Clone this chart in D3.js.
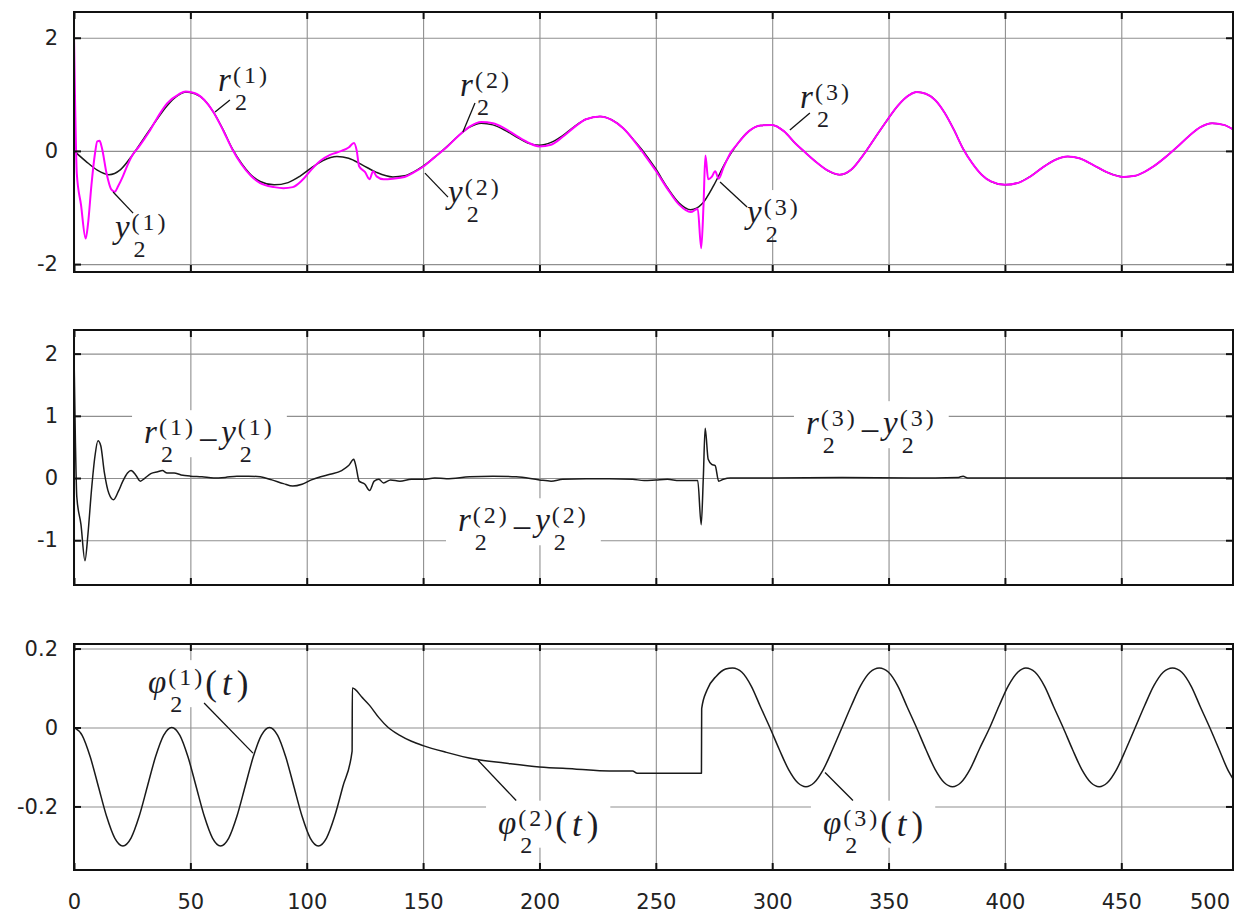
<!DOCTYPE html>
<html>
<head>
<meta charset="utf-8">
<script src="https://cdn.jsdelivr.net/npm/d3@7"></script>
<style>
body { margin: 0; background: #fff; }
</style>
</head>
<body>
<script>
// time ticks
var xTicks = [0, 50, 100, 150, 200, 250, 300, 350, 400, 450, 500];

var yTicks1 = [-2, 0, 2];
var yTicks2 = [-1, 0, 1, 2];
var yTicks3 = [-0.2, 0, 0.2];

// panel 1, black curve [t, value]
var refCurve = [[0,0],[5,-0.18],[10,-0.34],[15,-0.42],[20,-0.33],[25,-0.08],[30,0.22],[35,0.52],[40,0.8],[45,0.99],[48,1.04],[52,1.01],[56,0.9],[60,0.68],[64,0.38],[68,0.04],[72,-0.22],[76,-0.42],[80,-0.54],[86,-0.6],[92,-0.56],[97,-0.45],[102,-0.3],[107,-0.17],[113,-0.1],[118,-0.13],[124,-0.25],[130,-0.38],[137,-0.46],[142,-0.44],[146,-0.37],[150,-0.27],[155,-0.11],[160,0.07],[165,0.26],[170,0.42],[175,0.49],[180,0.46],[185,0.37],[190,0.25],[195,0.14],[200,0.1],[205,0.15],[210,0.27],[215,0.43],[220,0.56],[226,0.61],[231,0.55],[236,0.4],[241,0.17],[245,-0.03],[250,-0.32],[255,-0.65],[260,-0.92],[265,-1.04],[270,-0.93],[275,-0.6],[280,-0.2],[285,0.12],[290,0.35],[295,0.45],[300,0.46],[305,0.35],[310,0.13],[314,-0.02],[319,-0.2],[324,-0.35],[329,-0.42],[334,-0.33],[339,-0.08],[344,0.22],[349,0.52],[354,0.8],[359,0.99],[362,1.04],[366,1.01],[370,0.9],[374,0.68],[378,0.38],[382,0.04],[386,-0.22],[390,-0.42],[394,-0.54],[400,-0.6],[406,-0.56],[411,-0.45],[416,-0.3],[421,-0.17],[427,-0.1],[432,-0.13],[438,-0.25],[444,-0.38],[451,-0.46],[456,-0.44],[460,-0.37],[464,-0.27],[469,-0.11],[474,0.07],[479,0.26],[484,0.42],[489,0.49],[494,0.46],[498,0.38]];

// panel 1, magenta curve
var outCurve = [[0,2.0],[0.5,0.8],[1.2,-0.4],[3,-0.95],[5,-1.55],[6,-1.3],[7.5,-0.6],[9,-0.05],[10,0.17],[11,0.18],[12,0.05],[14,-0.4],[16,-0.68],[17.5,-0.72],[19,-0.62],[21,-0.45],[23,-0.25],[25,-0.08],[28,0.08],[32,0.32],[36,0.6],[40,0.84],[45,1.0],[48,1.05],[52,1.02],[56,0.9],[60,0.68],[64,0.37],[68,0.03],[72,-0.24],[76,-0.44],[80,-0.57],[86,-0.64],[90,-0.66],[94,-0.64],[98,-0.52],[102,-0.33],[106,-0.17],[110,-0.07],[115,0.0],[118,0.06],[120.3,0.14],[121.5,0.0],[122.5,-0.27],[125,-0.37],[127,-0.5],[128.5,-0.36],[130,-0.45],[133,-0.5],[137,-0.49],[142,-0.46],[146,-0.38],[150,-0.28],[155,-0.11],[160,0.06],[165,0.26],[170,0.43],[175,0.51],[180,0.49],[185,0.4],[190,0.27],[195,0.15],[200,0.08],[205,0.11],[210,0.25],[215,0.42],[220,0.56],[226,0.61],[231,0.55],[236,0.4],[241,0.16],[245,-0.06],[250,-0.35],[255,-0.67],[260,-0.95],[265,-1.08],[268,-1.02],[269.5,-1.72],[270.5,-0.95],[271.3,-0.08],[272.5,-0.5],[274,-0.46],[275.5,-0.36],[277,-0.49],[279,-0.3],[282,-0.04],[285,0.12],[290,0.35],[295,0.45],[300,0.46],[305,0.35],[310,0.13],[314,-0.02],[319,-0.2],[324,-0.35],[329,-0.42],[334,-0.33],[339,-0.08],[344,0.22],[349,0.52],[354,0.8],[359,0.99],[362,1.04],[366,1.01],[370,0.9],[374,0.68],[378,0.38],[382,0.04],[386,-0.22],[390,-0.42],[394,-0.54],[400,-0.6],[406,-0.56],[411,-0.45],[416,-0.3],[421,-0.17],[427,-0.1],[432,-0.13],[438,-0.25],[444,-0.38],[451,-0.46],[456,-0.44],[460,-0.37],[464,-0.27],[469,-0.11],[474,0.07],[479,0.26],[484,0.42],[489,0.49],[494,0.46],[498,0.38]];

// panel 2, tracking error
var errCurve = [[0,2.0],[0.6,0.6],[1.2,-0.3],[3,-0.75],[4.7,-1.33],[6,-0.9],[7.5,-0.2],[9,0.35],[10.3,0.6],[11.5,0.52],[13,0.1],[15,-0.25],[17,-0.35],[19,-0.22],[21,-0.05],[23,0.08],[24.5,0.12],[26.5,0.05],[28.5,-0.05],[30.5,0.0],[33,0.07],[36,0.1],[38,0.12],[40,0.08],[43,0.08],[46,0.05],[50,0.03],[55,0.02],[60,0.0],[65,0.01],[70,0.03],[75,0.03],[80,0.02],[85,-0.03],[90,-0.09],[94,-0.13],[98,-0.1],[102,-0.03],[106,0.02],[110,0.06],[115,0.12],[118,0.2],[120.2,0.3],[121.2,0.18],[122.5,-0.05],[125,-0.1],[127,-0.2],[129,-0.05],[131,-0.02],[133,-0.08],[136,-0.03],[140,-0.05],[145,-0.02],[150,-0.02],[155,0.0],[160,-0.01],[170,0.02],[180,0.03],[190,0.02],[200,-0.03],[205,-0.05],[210,-0.02],[220,-0.01],[230,-0.01],[240,-0.02],[245,-0.04],[250,-0.03],[255,-0.02],[260,-0.04],[268,-0.04],[269.5,-0.75],[270.4,0.0],[271.2,0.8],[272.5,0.3],[274,0.22],[275.5,0.2],[277,-0.05],[279,-0.02],[282,0.0],[300,0.0],[330,0.01],[360,0.0],[380,0.01],[382,0.03],[384,0.0],[420,0.0],[460,0.0],[498,0.0]];

// panel 3, phi2(t)
var phiCurve = [[0,0],[3.5,-0.02],[7,-0.075],[10.5,-0.15],[14,-0.225],[17.5,-0.28],[21,-0.3],[24.5,-0.28],[28,-0.225],[31.5,-0.15],[35,-0.075],[38.5,-0.02],[42,0],[45.5,-0.02],[49,-0.075],[52.5,-0.15],[56,-0.225],[59.5,-0.28],[63,-0.3],[66.5,-0.28],[70,-0.225],[73.5,-0.15],[77,-0.075],[80.5,-0.02],[84,0],[87.5,-0.02],[91,-0.075],[94.5,-0.15],[98,-0.225],[101.5,-0.28],[105,-0.3],[108.5,-0.28],[112,-0.225],[115.5,-0.15],[119.5,-0.06],
  [119.6,0.1],[124,0.075],[127,0.056],[131,0.025],[135,0.0],[140,-0.02],[145,-0.035],[150,-0.046],[160,-0.063],[172,-0.08],[185,-0.09],[200,-0.1],[215,-0.105],[230,-0.11],[240,-0.11],[242,-0.116],[255,-0.116],[269.6,-0.116],
  [269.7,0.048],[272,0.095],[276,0.13],[280,0.148],[283,0.151],[287,0.14],[291,0.105],[295,0.052],[299,0.0],[303,-0.055],[307,-0.106],[311,-0.14],[314.5,-0.15],[318,-0.14],[322,-0.106],[326,-0.055],[330,0.0],[334,0.055],[338,0.106],[342,0.14],[346,0.151],[350,0.14],[354,0.105],[358,0.052],[362,0.0],[366,-0.055],[370,-0.106],[374,-0.14],[377.5,-0.15],[381,-0.14],[385,-0.106],[389,-0.055],[393.5,0.0],[397.5,0.055],[401.5,0.106],[405.5,0.14],[409,0.151],[413,0.14],[417,0.105],[421,0.052],[425,0.0],[429,-0.055],[433,-0.106],[437,-0.14],[440.5,-0.15],[444,-0.14],[448,-0.106],[452,-0.055],[456,0.0],[460,0.055],[464,0.106],[468,0.14],[472,0.151],[476,0.14],[480,0.105],[484,0.052],[488,0.0],[492,-0.055],[496,-0.11],[498,-0.13]];

// formula labels: anchor [t, value], leader line [[t, v], [t, v]]
var labels1 = [
	{parts: [{b: "r", s: "(1)"}], at: [61.9, 1.058], lead: [[60.6, 0.687], [67.0, 0.899]]},
	{parts: [{b: "y", s: "(1)"}], at: [17.6, -1.54], lead: [[16.8, -0.727], [25.4, -1.1]]},
	{parts: [{b: "r", s: "(2)"}], at: [165.9, 0.97], lead: [[167.1, 0.333], [172.3, 0.846]]},
	{parts: [{b: "y", s: "(2)"}], at: [160.7, -0.92], lead: [[150.8, -0.393], [160.7, -0.817]]},
	{parts: [{b: "y", s: "(3)"}], at: [289.2, -1.275], lead: [[277.6, -0.55], [289.2, -0.99]]},
	{parts: [{b: "r", s: "(3)"}], at: [312, 0.757], lead: [[307.6, 0.369], [316.2, 0.669]]}
];
var labels2 = [
	{parts: [{b: "r", s: "(1)"}, {op: "\u2212"}, {b: "y", s: "(1)"}], at: [30.1, 0.56]},
	{parts: [{b: "r", s: "(2)"}, {op: "\u2212"}, {b: "y", s: "(2)"}], at: [165, -0.856]},
	{parts: [{b: "r", s: "(3)"}, {op: "\u2212"}, {b: "y", s: "(3)"}], at: [314.5, 0.705]}
];
var labels3 = [
	{parts: [{b: "\u03c6", s: "(1)"}, {arg: "t"}], at: [31.8, 0.087], lead: [[55.9, 0.062], [76.9, -0.065]]},
	{parts: [{b: "\u03c6", s: "(2)"}, {arg: "t"}], at: [182.2, -0.269], lead: [[173.6, -0.083], [190, -0.185]]},
	{parts: [{b: "\u03c6", s: "(3)"}, {arg: "t"}], at: [321.8, -0.269], lead: [[322.7, -0.114], [334.7, -0.185]]}
];

var Width = 1237, Height = 917;
var tickFont = "'DejaVu Sans', Arial, sans-serif";

var svg = d3.select("body").append("svg")
	.attr("width", Width)
	.attr("height", Height);

var x = d3.scaleLinear().domain([0, 498]).range([74, 1233]);
var x0 = x.range()[0], x1 = x.range()[1];

var panels = [
	{top: 12, bottom: 272, domain: [-2.14, 2.455], ticks: yTicks1, labels: labels1,
		lines: [[refCurve, "#1a1a1a", 1.5], [outCurve, "#ff00ff", 2]]},
	{top: 330, bottom: 585, domain: [-1.72, 2.38], ticks: yTicks2, labels: labels2,
		lines: [[errCurve, "#1a1a1a", 1.5]]},
	{top: 644, bottom: 870, domain: [-0.361, 0.2115], ticks: yTicks3, labels: labels3,
		lines: [[phiCurve, "#1a1a1a", 1.5]]}
];

panels.forEach(function(p, i) { drawPanel(p, i); });

// time labels under the last panel
var lastP = panels[panels.length - 1];
var inTicks = xTicks.filter(function(t) { return x(t) <= x1; });
var xLab = svg.append("g")
	.attr("transform", "translate(0," + lastP.bottom + ")")
	.call(d3.axisBottom(x).tickValues(inTicks).tickSize(0).tickPadding(24).tickFormat(String));
xLab.select(".domain").remove();
styleTickText(xLab);
// 500 does not fit inside the frame, keep it at the right edge
xTicks.filter(function(t) { return x(t) > x1; }).forEach(function(t) {
	svg.append("text")
		.attr("x", x1 - 3)
		.attr("y", lastP.bottom + 24)
		.attr("dy", "0.71em")
		.attr("text-anchor", "end")
		.attr("font-family", tickFont)
		.attr("font-size", 21)
		.attr("fill", "#222")
		.text(String(t));
});

function styleTickText(g) {
	g.attr("font-family", tickFont).attr("font-size", 21);
	g.selectAll("text").attr("fill", "#222");
}

function drawPanel(p, i) {
	var y = d3.scaleLinear().domain(p.domain).range([p.bottom, p.top]);
	var h = p.bottom - p.top, w = x1 - x0;
	var inner = xTicks.filter(function(t) { return x(t) < x1 - 1; });

	// grid
	var gridG = svg.append("g");
	gridG.append("g").attr("transform", "translate(0," + p.bottom + ")")
		.call(d3.axisBottom(x).tickValues(inner).tickSize(-h).tickFormat(""));
	gridG.append("g").attr("transform", "translate(" + x0 + ",0)")
		.call(d3.axisLeft(y).tickValues(p.ticks).tickSize(-w).tickFormat(""));
	gridG.selectAll(".domain").remove();
	gridG.selectAll("line").attr("stroke", "#8f8f8f").attr("stroke-width", 1.1);

	var boxG = svg.append("g");

	// curves
	svg.append("clipPath").attr("id", "clip" + i)
		.append("rect").attr("x", x0).attr("y", p.top).attr("width", w).attr("height", h);
	var lineG = svg.append("g").attr("clip-path", "url(#clip" + i + ")");
	var line = d3.line()
		.x(function(d) { return x(d[0]); })
		.y(function(d) { return y(d[1]); })
		.curve(d3.curveMonotoneX);
	p.lines.forEach(function(l) {
		lineG.append("path")
			.datum(l[0])
			.attr("d", line)
			.attr("fill", "none")
			.attr("stroke", l[1])
			.attr("stroke-width", l[2])
			.attr("stroke-linejoin", "round");
	});

	// formulas and their leader lines
	var labG = svg.append("g");
	p.labels.forEach(function(lb) {
		drawLabel(labG, boxG, x(lb.at[0]), y(lb.at[1]), lb.parts);
		if (lb.lead) {
			labG.append("line")
				.attr("x1", x(lb.lead[0][0])).attr("y1", y(lb.lead[0][1]))
				.attr("x2", x(lb.lead[1][0])).attr("y2", y(lb.lead[1][1]))
				.attr("stroke", "#111").attr("stroke-width", 1.3);
		}
	});

	// inward tick marks on all four sides
	var tk = svg.append("g");
	tk.append("g").attr("transform", "translate(0," + p.top + ")")
		.call(d3.axisBottom(x).tickValues(inner).tickSize(7).tickFormat(""));
	tk.append("g").attr("transform", "translate(0," + p.bottom + ")")
		.call(d3.axisTop(x).tickValues(inner).tickSize(7).tickFormat(""));
	tk.append("g").attr("transform", "translate(" + x0 + ",0)")
		.call(d3.axisRight(y).tickValues(p.ticks).tickSize(7).tickFormat(""));
	tk.append("g").attr("transform", "translate(" + x1 + ",0)")
		.call(d3.axisLeft(y).tickValues(p.ticks).tickSize(7).tickFormat(""));
	tk.selectAll(".domain").remove();
	tk.selectAll("line").attr("stroke", "#111").attr("stroke-width", 2);

	// frame
	svg.append("rect")
		.attr("x", x0).attr("y", p.top).attr("width", w).attr("height", h)
		.attr("style", "fill: none; stroke: #111; stroke-width: 2");

	// value labels
	var yl = svg.append("g").attr("transform", "translate(" + x0 + ",0)")
		.call(d3.axisLeft(y).tickValues(p.ticks).tickSize(0).tickPadding(16).tickFormat(String));
	yl.select(".domain").remove();
	styleTickText(yl);
}

// r_2^(k) style formula: italic letter, superscript above, subscript 2 below
function drawLabel(layer, boxLayer, px, py, parts) {
	var lab = layer.append("g")
		.attr("fill", "#1c1c26")
		.attr("font-family", "'Liberation Serif', 'Times New Roman', serif");
	var cx = px;
	parts.forEach(function(pt) {
		if (pt.op) {
			var o = lab.append("text").attr("x", cx + 2).attr("y", py + 9).attr("font-size", 36).text(pt.op);
			cx += 2 + o.node().getComputedTextLength() + 3;
		} else if (pt.arg) {
			var a = lab.append("text").attr("x", cx).attr("y", py + 2).attr("font-size", 35);
			a.append("tspan").text("(");
			a.append("tspan").attr("dx", 5).attr("font-style", "italic").text(pt.arg);
			a.append("tspan").attr("dx", 5).text(")");
			cx += a.node().getComputedTextLength() + 10;
		} else {
			var b = lab.append("text").attr("x", cx).attr("y", py)
				.attr("font-size", 33).attr("font-style", "italic").text(pt.b);
			cx += b.node().getComputedTextLength() + 2;
			var s = lab.append("text").attr("x", cx).attr("y", py - 8)
				.attr("font-size", 24).attr("letter-spacing", 3).text(pt.s);
			var d = lab.append("text").attr("x", cx + 2).attr("y", py + 19)
				.attr("font-size", 24).text("2");
			cx += Math.max(s.node().getComputedTextLength(), d.node().getComputedTextLength() + 2);
		}
	});
	// white box under the formula hides the grid behind it
	var bb = lab.node().getBBox();
	boxLayer.append("rect")
		.attr("x", bb.x - 12).attr("y", bb.y - 4)
		.attr("width", bb.width + 24).attr("height", bb.height - 6)
		.attr("fill", "#fff");
}
</script>
</body>
</html>
